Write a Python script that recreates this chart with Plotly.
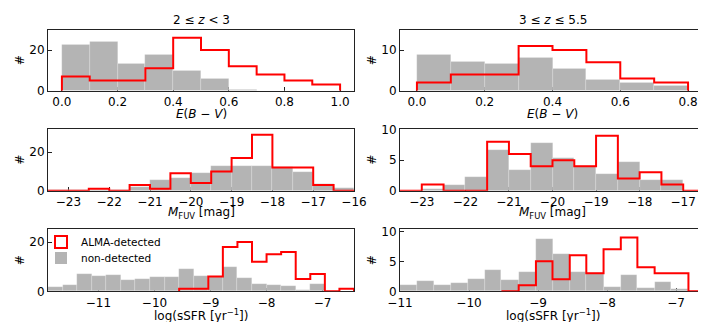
import plotly.graph_objects as go
from plotly.subplots import make_subplots

# %% Daten

# E(B-V), 2 <= z < 3
ebv_edges_lo = [0.0, 0.1, 0.2, 0.3, 0.4, 0.5, 0.6, 0.7, 0.8, 0.9, 1.0]
ebv_alma_lo = [7, 5, 5, 11, 26, 20, 12, 8, 5, 3]
ebv_non_lo = [22.6, 23.9, 13.3, 17.5, 10.0, 5.7, 0.3, 0.2, 0, 0]

# E(B-V), 3 <= z <= 5.5
ebv_edges_hi = [0.0, 0.1, 0.2, 0.3, 0.4, 0.5, 0.6, 0.7, 0.8]
ebv_alma_hi = [2, 4, 4, 11, 10, 7, 3, 2]
ebv_non_hi = [8.85, 7.05, 6.6, 8.1, 5.5, 2.8, 1.9, 1.2]

# M_FUV, 2 <= z < 3
muv_edges_lo = [-23.5, -23.0, -22.5, -22.0, -21.5, -21.0, -20.5, -20.0,
                -19.5, -19.0, -18.5, -18.0, -17.5, -17.0, -16.5, -16.0]
muv_alma_lo = [0, 0, 1, 0, 3, 1, 9, 4, 10, 17, 29, 12, 12, 3, 0]
muv_non_lo = [0.3, 0.3, 0.5, 0.3, 2.0, 5.6, 6.8, 9.4, 12.9, 12.9, 12.9, 12.5, 9.7, 3.7, 1.4]

# M_FUV, 3 <= z <= 5.5
muv_edges_hi = [-23.5, -23.0, -22.5, -22.0, -21.5, -21.0, -20.5, -20.0,
                -19.5, -19.0, -18.5, -18.0, -17.5, -17.0, -16.5]
muv_alma_hi = [0, 1, 0, 0, 8, 6, 4, 5, 4, 9, 2, 3, 1, 0]
muv_non_hi = [0, 0.3, 1.0, 2.2, 6.7, 3.4, 7.8, 5.3, 4.0, 2.7, 4.75, 1.75, 1.7, 0]

# log(sSFR), 2 <= z < 3
ssfr_edges_lo = [-11.90, -11.64, -11.38, -11.12, -10.86, -10.60, -10.34, -10.08,
                 -9.82, -9.56, -9.30, -9.04, -8.78, -8.52, -8.26, -8.00,
                 -7.74, -7.48, -7.22, -6.96, -6.70, -6.44]
ssfr_non_lo = [1.6, 2.7, 7.0, 6.1, 6.6, 4.5, 4.9, 5.8, 5.7, 9.1, 6.1, 6.0,
               9.7, 5.4, 3.0, 2.4, 2.2, 0.7, 2.8, 0.3, 0]
ssfr_alma_start_lo = 9  # erste Bin-Kante der ALMA-Detektionen
ssfr_alma_lo = [1, 1, 6, 18, 20, 12, 15, 16, 5, 7, 0, 1]

# log(sSFR), 3 <= z <= 5.5
ssfr_edges_hi = [-11.00, -10.75, -10.51, -10.26, -10.02, -9.77, -9.53, -9.28,
                 -9.03, -8.79, -8.54, -8.30, -8.05, -7.80, -7.56, -7.31,
                 -7.07, -6.82, -6.58]
ssfr_non_hi = [1.1, 1.65, 1.05, 1.45, 2.0, 3.6, 1.9, 3.3, 8.7, 6.2, 3.2, 3.0,
               0.7, 2.7, 0.55, 1.5, 0.45, 0]
ssfr_alma_start_hi = 6
ssfr_alma_hi = [0, 1, 5, 2, 6, 3, 7, 9, 4, 3, 3, 0]

FONT = "DejaVu Sans"
GRAY = "#b4b4b4"
W, H = 706, 322


def px_x(p):
    return p / W


def px_y(p):
    return 1 - p / H


def add_hist(fig, row, col, edges, non, alma, alma_start=0):
    centers = [(edges[i] + edges[i + 1]) / 2 for i in range(len(non))]
    widths = [edges[i + 1] - edges[i] for i in range(len(non))]
    fig.add_trace(go.Bar(x=centers, y=non, width=widths, marker_color=GRAY,
                         marker_line=dict(color="rgba(255,255,255,0.35)", width=0.5),
                         showlegend=False), row=row, col=col)
    e = edges[alma_start:alma_start + len(alma) + 1]
    xs = [e[0]] + e
    ys = [0] + alma + [0]
    fig.add_trace(go.Scatter(x=xs, y=ys, mode="lines", line_shape="hv",
                             line=dict(color="red", width=2), showlegend=False),
                  row=row, col=col)


fig = make_subplots(rows=3, cols=2)

add_hist(fig, 1, 1, ebv_edges_lo, ebv_non_lo, ebv_alma_lo)
add_hist(fig, 1, 2, ebv_edges_hi, ebv_non_hi, ebv_alma_hi)
add_hist(fig, 2, 1, muv_edges_lo, muv_non_lo, muv_alma_lo)
add_hist(fig, 2, 2, muv_edges_hi, muv_non_hi, muv_alma_hi)
add_hist(fig, 3, 1, ssfr_edges_lo, ssfr_non_lo, ssfr_alma_lo, ssfr_alma_start_lo)
add_hist(fig, 3, 2, ssfr_edges_hi, ssfr_non_hi, ssfr_alma_hi, ssfr_alma_start_hi)

# Legende (nur Dummy-Traces), jeder Eintrag in eigener Legende -> engere Zeilen
fig.add_trace(go.Bar(x=[None], y=[None], name="ALMA-detected", marker_color="white",
                     marker_line=dict(color="red", width=2), legend="legend"),
              row=3, col=1)
fig.add_trace(go.Bar(x=[None], y=[None], name="non-detected", marker_color=GRAY,
                     marker_line=dict(color=GRAY, width=0), legend="legend2"),
              row=3, col=1)

# Pixel-Positionen der Achsen
xdom = {1: (40, 346), 2: (392, 697)}
ydom = {1: (21.7, 82.7), 2: (121, 182.7), 3: (221, 283.3)}

xranges = {(1, 1): [-0.05, 1.05], (1, 2): [-0.05, 0.85],
           (2, 1): [-23.5, -16.0], (2, 2): [-23.5, -16.5],
           (3, 1): [-11.90, -6.44], (3, 2): [-11.0, -6.58]}
yranges = {(1, 1): [0, 30], (1, 2): [0, 15], (2, 1): [0, 32], (2, 2): [0, 10.1],
           (3, 1): [0, 25.3], (3, 2): [0, 10.4]}
xticks = {(1, 1): [0.0, 0.2, 0.4, 0.6, 0.8, 1.0], (1, 2): [0.0, 0.2, 0.4, 0.6, 0.8],
          (2, 1): [-23, -22, -21, -20, -19, -18, -17, -16],
          (2, 2): [-23, -22, -21, -20, -19, -18, -17],
          (3, 1): [-11, -10, -9, -8, -7], (3, 2): [-11, -10, -9, -8, -7]}
yticks = {(1, 1): [0, 20], (1, 2): [0, 10], (2, 1): [0, 20], (2, 2): [0, 5, 10],
          (3, 1): [0, 20], (3, 2): [0, 5, 10]}

axis_style = dict(showgrid=False, zeroline=False, showline=True, mirror=True,
                  linecolor="#222", linewidth=1, ticks="inside", ticklen=3.5,
                  tickcolor="#222", tickfont=dict(family=FONT, size=12, color="black"),
                  layer="below traces", automargin=False)

for (r, c), xr in xranges.items():
    x0, x1 = xdom[c]
    y0, y1 = ydom[r]
    fmt = ".1f" if r == 1 else "d"
    fig.update_xaxes(domain=[px_x(x0), px_x(x1)], range=xr, tickvals=xticks[(r, c)],
                     tickformat=fmt, **axis_style, row=r, col=c)
    fig.update_yaxes(domain=[px_y(y1), px_y(y0)], range=yranges[(r, c)],
                     tickvals=yticks[(r, c)], **axis_style, row=r, col=c)

# Titel und Achsenbeschriftungen
annos = []
tfont = dict(family=FONT, size=12, color="black")
for c, txt in [(1, "2 ≤ <i>z</i> &lt; 3"), (2, "3 ≤ <i>z</i> ≤ 5.5")]:
    annos.append(dict(text=txt, x=px_x(sum(xdom[c]) / 2), y=px_y(12)))
xlabels = {1: ("<i>E</i>(<i>B</i> − <i>V</i>)", 106),
           2: ("<i>M</i><sub>FUV</sub> [mag]", 205),
           3: ("log(sSFR [yr<sup>−1</sup>])", 307)}
for r, (txt, yp) in xlabels.items():
    for c in (1, 2):
        annos.append(dict(text=txt, x=px_x(sum(xdom[c]) / 2), y=px_y(yp)))
for r in (1, 2, 3):
    for c, xp in [(1, 12), (2, 364)]:
        annos.append(dict(text="#", x=px_x(xp), y=px_y(sum(ydom[r]) / 2), textangle=-90))
for a in annos:
    a.update(xref="paper", yref="paper", showarrow=False, font=tfont,
             xanchor="center", yanchor="middle")

leg = dict(xanchor="left", yanchor="middle", bgcolor="rgba(0,0,0,0)",
           font=dict(family=FONT, size=10.5, color="black"), itemwidth=30)
fig.update_layout(
    width=W, height=H, margin=dict(l=0, r=0, t=0, b=0),
    plot_bgcolor="white", paper_bgcolor="white",
    bargap=0, barmode="overlay", annotations=annos,
    font=dict(family=FONT, size=12, color="black"),
    legend=dict(x=px_x(33), y=px_y(234), **leg),
    legend2=dict(x=px_x(33), y=px_y(250), **leg),
)

fig.write_html("out.html")
